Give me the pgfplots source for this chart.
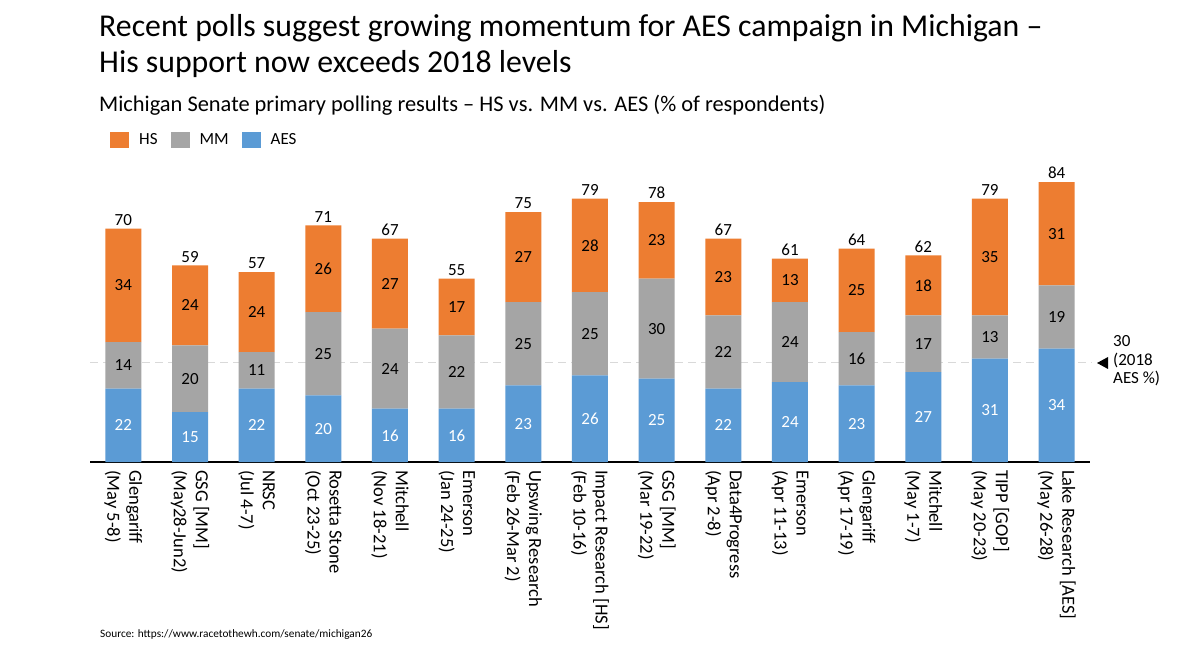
\documentclass[border=0pt]{standalone}
\usepackage{fontspec}
\setmainfont{Carlito}
\usepackage{pgfplots}
\usepackage{pgfplotstable}
\pgfplotsset{compat=1.18}
\definecolor{hsc}{HTML}{ED7D31}
\definecolor{mmc}{HTML}{A5A5A5}
\definecolor{aesc}{HTML}{5B9BD5}
\definecolor{refl}{HTML}{D9D9D9}

\pgfplotstableread{
x aes mm hs total
0 22 14 34 70
1 15 20 24 59
2 22 11 24 57
3 20 25 26 71
4 16 24 27 67
5 16 22 17 55
6 23 25 27 75
7 26 25 28 79
8 25 30 23 78
9 22 22 23 67
10 24 24 13 61
11 23 16 25 64
12 27 17 18 62
13 31 13 35 79
14 34 19 31 84
}\polls

\pgfplotsset{
  midlabel/.style={
    nodes near coords,
    point meta=explicit,
    every node near coord/.append style={
      anchor=center, font=\fontsize{17}{19}\selectfont, text=#1}
  },
  leg/.style={legend image code/.code={\fill[##1] (0pt,-8pt) rectangle (19pt,8pt);}},
  geom/.style={at={(90pt,184pt)}, anchor=south west,
    scale only axis, width=1000pt, height=300pt,
    xmin=-0.5, xmax=14.5, ymin=0, ymax=90, clip=false,
    /pgf/number format/assume math mode=true}
}

\begin{document}
\begin{tikzpicture}[x=1pt,y=1pt]
\path[use as bounding box, fill=white] (0,0) rectangle (1200,646);
\node[anchor=base west, inner sep=0pt, font=\fontsize{31.8}{32}\selectfont] at (99,609) {Recent polls suggest growing momentum for AES campaign in Michigan –};
\node[anchor=base west, inner sep=0pt, font=\fontsize{31.8}{32}\selectfont] at (99,573) {His support now exceeds 2018 levels};
\node[anchor=base west, inner sep=0pt, font=\fontsize{22.4}{24}\selectfont] at (99,534) {Michigan Senate primary polling results – HS vs. MM vs. AES (\% of respondents)};
\node[anchor=base west, inner sep=0pt, font=\fontsize{11.3}{14}\selectfont] at (100,9) {Source: https://www.racetothewh.com/senate/michigan26};

\begin{axis}[
  geom,
  ybar stacked, bar width=36pt,
  axis y line=none, axis x line*=bottom,
  x axis line style={-, line width=1.3pt, black},
  ytick=\empty,
  xtick={0,...,14},
  major tick length=0pt,
  xticklabels={{Glengariff\\(May 5-8)},{GSG [MM]\\(May28-Jun2)},{NRSC\\(Jul 4-7)},{Rosetta Stone\\(Oct 23-25)},{Mitchell\\(Nov 18-21)},{Emerson\\(Jan 24-25)},{Upswing Research\\(Feb 26-Mar 2)},{Impact Research [HS]\\(Feb 10-16)},{GSG [MM]\\(Mar 19-22)},{Data4Progress\\(Apr 2-8)},{Emerson\\(Apr 11-13)},{Glengariff\\(Apr 17-19)},{Mitchell\\(May 1-7)},{TIPP [GOP]\\(May 20-23)},{Lake Research [AES]\\(May 26-28)}},
  xticklabel style={rotate=-90, anchor=west, align=left, inner sep=0pt, font=\fontsize{18.5}{22}\selectfont},
  xticklabel shift=8pt,
  reverse legend,
  legend style={at={(0.02,1.0733)}, anchor=west, draw=none, fill=none, legend columns=3, inner sep=0pt,
    font=\fontsize{17}{19}\selectfont, nodes={inner sep=0pt},
    /tikz/every odd column/.append style={column sep=10pt},
    /tikz/every even column/.append style={column sep=13pt}},
]
\addplot[fill=aesc, draw=none, leg, midlabel=white] table[x=x, y=aes, meta=aes] {\polls};
\addlegendentry{AES}
\addplot[fill=mmc, draw=none, leg, midlabel=black] table[x=x, y=mm, meta=mm] {\polls};
\addlegendentry{MM}
\addplot[fill=hsc, draw=none, leg, midlabel=black] table[x=x, y=hs, meta=hs] {\polls};
\addlegendentry{HS}
\draw[refl, dash pattern=on 8pt off 5pt, line width=1pt] (axis cs:-0.5,30) -- (axis cs:14.53,30);
\end{axis}

\begin{axis}[geom, hide axis, ybar, bar width=36pt]
\addplot[draw=none, fill=none, nodes near coords,
  every node near coord/.append style={anchor=south, inner sep=3pt, text=black, font=\fontsize{17}{19}\selectfont}]
  table[x=x, y=total] {\polls};
\end{axis}

\fill (1097,283) -- (1108,289) -- (1108,277) -- cycle;
\node[anchor=base west, inner sep=0pt, align=left, font=\fontsize{17}{18.5}\selectfont] at (1113,262) {30\\(2018\\AES \%)};
\end{tikzpicture}
\end{document}
